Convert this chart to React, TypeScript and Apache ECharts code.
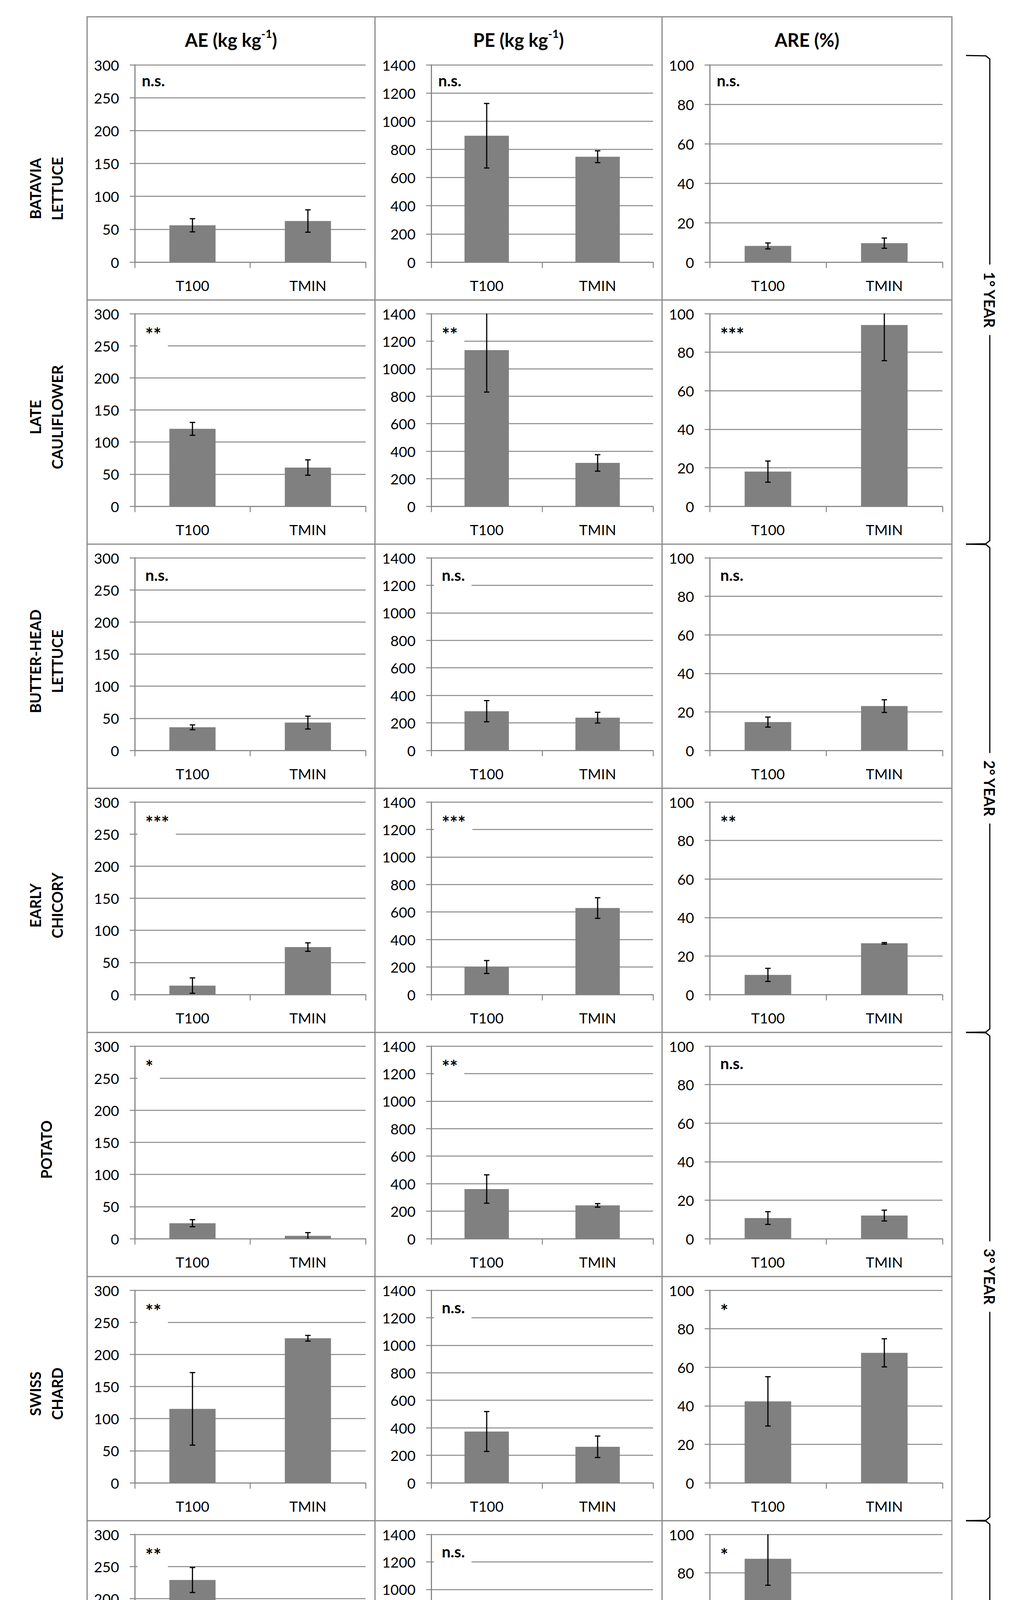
import React, { useEffect, useRef } from 'react';
import * as echarts from 'echarts';

// ---------- data ----------
const categories = ['T100', 'TMIN'];
const cropLabels = [
  'BATAVIA\nLETTUCE',
  'LATE\nCAULIFLOWER',
  'BUTTER-HEAD\nLETTUCE',
  'EARLY\nCHICORY',
  'POTATO',
  'SWISS\nCHARD',
  'TOMATO',
  'MELON',
];
const headerTexts = ['{b|AE (kg kg}{s|-1}{b|)}', '{b|PE (kg kg}{s|-1}{b|)}', '{b|ARE (%)}'];
const yearLabels = ['1° YEAR', '2° YEAR', '3° YEAR', '4° YEAR', '5° YEAR'];
const yearRowSpans = [[0, 1], [2, 3], [4, 5], [6, 6], [7, 7]];

const yMax = [300, 1400, 100];
const yInterval = [50, 200, 20];

// AE (kg kg-1)
const aeT100 = [56, 120.6, 36, 13.9, 24.1, 115.2, 228.9, 83.1];
const aeT100Err = [10, 10, 3.7, 12, 5.5, 56.5, 19.5, 23.5];
const aeTmin = [62.5, 60.3, 43.3, 73.9, 4.4, 225.2, 120.3, 137.5];
const aeTminErr = [17, 12, 10, 6.6, 5, 4.4, 23, 37];
// PE (kg kg-1)
const peT100 = [897, 1135, 285, 200, 361, 373, 778, 997];
const peT100Err = [229, 305, 77, 47, 103, 145, 101, 334];
const peTmin = [748, 315, 238, 629, 242, 262, 534, 526];
const peTminErr = [42, 60, 39, 75, 13, 78, 205, 44];
// ARE (%)
const areT100 = [8.2, 18, 14.7, 10.2, 10.7, 42.3, 87.3, 10.5];
const areT100Err = [1.5, 5.5, 2.6, 3.4, 3.3, 12.8, 13.7, 5.8];
const areTmin = [9.6, 94.1, 23, 26.6, 12, 67.5, 24.2, 31.6];
const areTminErr = [2.6, 18.5, 3.3, 0.4, 2.8, 7.3, 7.5, 5.7];

// significance
const aeSig = ['n.s.', '**', 'n.s.', '***', '*', '**', '**', 'n.s.'];
const peSig = ['n.s.', '**', 'n.s.', '***', '**', 'n.s.', 'n.s.', 'n.s.'];
const areSig = ['n.s.', '***', 'n.s.', '**', 'n.s.', '*', '*', '*'];
// whether the label box hides the gridline below it
const aeMask = [false, true, false, true, true, true, true, true];
const peMask = [false, true, true, true, true, true, true, true];
const areMask = [false, false, false, false, false, false, false, false];

// ---------- layout ----------
const FONT = 'Lato';
const GRAY = '#878787';
const BAR = '#808080';
const COL_X = [223, 960, 1695, 2437];
const ROW_LINES = [43, 768, 1393, 2018, 2643, 3268, 3893, 4518, 5143];
const AXIS_L = [345, 1104, 1817];
const AXIS_R = [936, 1672, 2413];

const plotTop = (r: number) => (r === 0 ? 166 : ROW_LINES[r] + 35);
const plotZero = (r: number) => ROW_LINES[r + 1] - 97;

function textWidth(t: string, font: string) {
  const c = document.createElement('canvas').getContext('2d');
  if (!c) return t.length * 20;
  c.font = font;
  return c.measureText(t).width;
}

export default function App() {
  const ref = useRef<HTMLDivElement>(null);
  useEffect(() => {
    document.body.style.margin = '0';
    const chart = echarts.init(ref.current as HTMLDivElement, null, { renderer: 'svg' });

    const metrics = [
      { t100: aeT100, t100e: aeT100Err, tmin: aeTmin, tmine: aeTminErr, sig: aeSig, mask: aeMask },
      { t100: peT100, t100e: peT100Err, tmin: peTmin, tmine: peTminErr, sig: peSig, mask: peMask },
      { t100: areT100, t100e: areT100Err, tmin: areTmin, tmine: areTminErr, sig: areSig, mask: areMask },
    ];

    const grids: any[] = [];
    const xAxes: any[] = [];
    const yAxes: any[] = [];
    const series: any[] = [];
    const elements: any[] = [];
    const nsFont = `bold 40px ${FONT}`;
    const starFont = `bold 48px ${FONT}`;

    for (let r = 0; r < 8; r++) {
      for (let c = 0; c < 3; c++) {
        const i = grids.length;
        const m = metrics[c];
        const top = plotTop(r);
        const zero = plotZero(r);
        grids.push({
          left: AXIS_L[c],
          top,
          width: AXIS_R[c] - AXIS_L[c],
          height: zero - top,
          outerBoundsMode: 'none',
        });
        xAxes.push({
          type: 'category',
          gridIndex: i,
          data: categories,
          axisLine: { show: true, lineStyle: { color: GRAY, width: 2.5 } },
          axisTick: { show: true, length: 15, lineStyle: { color: GRAY, width: 2.5 } },
          axisLabel: { color: '#000', fontSize: 37, fontFamily: FONT, margin: 41 },
          splitLine: { show: false },
        });
        yAxes.push({
          type: 'value',
          gridIndex: i,
          min: 0,
          max: yMax[c],
          interval: yInterval[c],
          axisLine: { show: true, lineStyle: { color: GRAY, width: 3 } },
          axisTick: { show: true, length: 13, lineStyle: { color: GRAY, width: 2.5 } },
          splitLine: { show: true, lineStyle: { color: GRAY, width: 2.5 } },
          axisLabel: {
            color: '#000',
            fontSize: 37,
            fontFamily: FONT,
            margin: 40,
            formatter: (v: number) => String(v),
          },
        });
        series.push({
          type: 'bar',
          xAxisIndex: i,
          yAxisIndex: i,
          data: [m.t100[r], m.tmin[r]],
          barWidth: '40%',
          itemStyle: { color: BAR },
          silent: true,
          z: 2,
        });
        series.push({
          type: 'custom',
          xAxisIndex: i,
          yAxisIndex: i,
          clip: true,
          silent: true,
          z: 3,
          encode: { x: 0, y: 1 },
          data: [
            [0, m.t100[r], m.t100e[r]],
            [1, m.tmin[r], m.tmine[r]],
          ],
          renderItem: (params: any, api: any) => {
            const x = api.value(0);
            const v = api.value(1);
            const e = api.value(2);
            const p1 = api.coord([x, v + e]);
            const p2 = api.coord([x, v - e]);
            const hw = 7;
            const st = { stroke: '#000', lineWidth: 3 };
            return {
              type: 'group',
              children: [
                { type: 'line', shape: { x1: p1[0], y1: p1[1], x2: p2[0], y2: p2[1] }, style: st },
                { type: 'line', shape: { x1: p1[0] - hw, y1: p1[1], x2: p1[0] + hw, y2: p1[1] }, style: st },
                { type: 'line', shape: { x1: p2[0] - hw, y1: p2[1], x2: p2[0] + hw, y2: p2[1] }, style: st },
              ],
            };
          },
        });

        // significance label
        const sig = m.sig[r];
        const isStar = sig.indexOf('*') >= 0;
        const font = isStar ? starFont : nsFont;
        const tx = AXIS_L[c] + (r === 0 ? 18 : 27);
        const ty = top + (isStar ? 52 : r === 0 ? 40 : 44);
        if (m.mask[r]) {
          const w = textWidth(sig, font);
          elements.push({
            type: 'rect',
            z: 10,
            silent: true,
            shape: { x: AXIS_L[c] + 7, y: top + 10, width: tx + w + 17 - (AXIS_L[c] + 7), height: 90 },
            style: { fill: '#fff' },
          });
        }
        elements.push({
          type: 'text',
          z: 11,
          x: tx,
          y: ty,
          style: {
            text: sig,
            font,
            fill: '#000',
            align: 'left',
            verticalAlign: 'middle',
          },
        });
      }
    }

    // table lines
    const lineStyle = { stroke: GRAY, lineWidth: 3 };
    elements.push({
      type: 'rect',
      z: 12,
      silent: true,
      shape: { x: COL_X[0], y: ROW_LINES[0], width: COL_X[3] - COL_X[0], height: ROW_LINES[8] - ROW_LINES[0] },
      style: { fill: 'none', stroke: GRAY, lineWidth: 3 },
    });
    [COL_X[1], COL_X[2]].forEach((x) =>
      elements.push({ type: 'line', z: 12, silent: true, shape: { x1: x, y1: ROW_LINES[0], x2: x, y2: ROW_LINES[8] }, style: lineStyle })
    );
    for (let k = 1; k < 8; k++) {
      elements.push({
        type: 'line',
        z: 12,
        silent: true,
        shape: { x1: COL_X[0], y1: ROW_LINES[k], x2: COL_X[3], y2: ROW_LINES[k] },
        style: lineStyle,
      });
    }

    // column headers
    headerTexts.forEach((t, c) => {
      elements.push({
        type: 'text',
        z: 12,
        x: (COL_X[c] + COL_X[c + 1]) / 2,
        y: 96,
        style: {
          text: t,
          align: 'center',
          verticalAlign: 'middle',
          fill: '#000',
          rich: {
            b: { fontFamily: FONT, fontWeight: 'bold', fontSize: 47, lineHeight: 58, verticalAlign: 'bottom', fill: '#000' },
            s: { fontFamily: FONT, fontWeight: 'bold', fontSize: 29, lineHeight: 33, verticalAlign: 'top', padding: [4, 0, 0, 0], fill: '#000' },
          },
        },
      });
    });

    // row labels
    cropLabels.forEach((t, r) => {
      elements.push({
        type: 'text',
        z: 12,
        x: 118,
        y: r === 0 ? 483 : ROW_LINES[r] + 300,
        rotation: Math.PI / 2,
        style: {
          text: t,
          font: `bold 38px ${FONT}`,
          lineHeight: 56,
          fill: '#000',
          align: 'center',
          verticalAlign: 'middle',
        },
      });
    });

    // year brackets
    const BX0 = 2473;
    const BX = 2534;
    yearRowSpans.forEach(([a, b], k) => {
      const y0 = k === 0 ? 142 : ROW_LINES[a];
      const y1 = ROW_LINES[b + 1];
      elements.push({
        type: 'polyline',
        z: 12,
        silent: true,
        shape: {
          points: [
            [BX0, y0],
            [BX - 10, y0 + 1],
            [BX, y0 + 9],
            [BX, y1 - 9],
            [BX - 10, y1 - 1],
            [BX0, y1],
          ],
        },
        style: { stroke: '#000', lineWidth: 3, fill: 'none' },
      });
      elements.push({
        type: 'text',
        z: 13,
        x: BX,
        y: (y0 + y1) / 2,
        rotation: -Math.PI / 2,
        style: {
          text: yearLabels[k],
          font: `bold 38px ${FONT}`,
          fill: '#000',
          align: 'center',
          verticalAlign: 'middle',
          backgroundColor: '#fff',
          padding: [2, 18, 2, 18],
        },
      });
    });

    chart.setOption({
      animation: false,
      backgroundColor: '#fff',
      grid: grids,
      xAxis: xAxes,
      yAxis: yAxes,
      series,
      graphic: { elements },
    });
    return () => chart.dispose();
  }, []);
  return <div ref={ref} style={{ width: 2596, height: 5189 }} />;
}
